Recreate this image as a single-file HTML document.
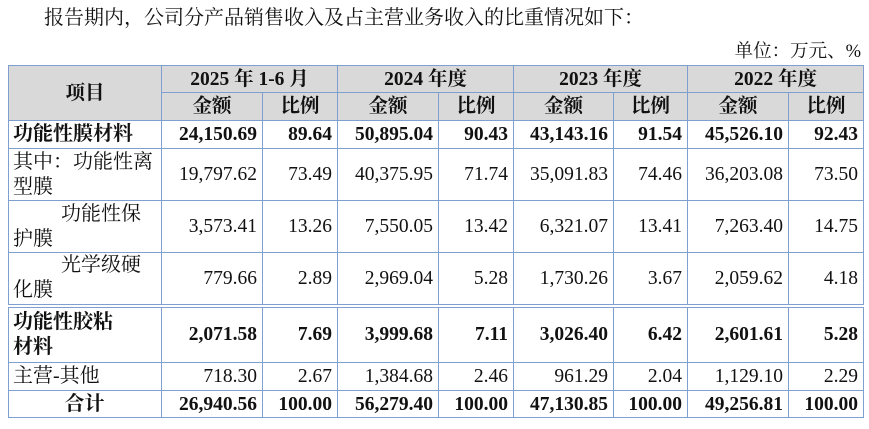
<!DOCTYPE html>
<html><head><meta charset="utf-8"><style>
body{margin:0;width:869px;height:429px;background:#fff;position:relative;overflow:hidden;font-family:"Liberation Serif","Noto Serif CJK SC",serif;color:#111}
.t{position:absolute;left:44px;top:1px;font-size:20px;white-space:nowrap}
.u{position:absolute;right:8px;top:37px;font-size:18.5px;white-space:nowrap}
table{position:absolute;left:8px;top:65px;border-collapse:collapse;table-layout:fixed;width:855px;font-size:19.5px}
td{border:1.5px solid #7f9fd0;padding:0 5px;text-align:right;white-space:nowrap;line-height:25px;overflow:hidden}
.h td{background:#d9d9d9;text-align:center;font-weight:bold;font-size:19.5px}
.b{font-weight:bold}
td.l{text-align:left;padding-left:4px;white-space:normal;font-size:20px}
tr.dbl td{border-top:4px double #7f9fd0}
</style></head><body>
<div class="t">报告期内，公司分产品销售收入及占主营业务收入的比重情况如下：</div>
<div class="u">单位：万元、%</div>
<table>
<colgroup><col style="width:153px"><col style="width:101px"><col style="width:75px"><col style="width:101px"><col style="width:75px"><col style="width:100px"><col style="width:74px"><col style="width:101px"><col style="width:75px"></colgroup>
<tr class="h" style="height:27px"><td rowspan="2">项目</td><td colspan="2">2025 年 1-6 月</td><td colspan="2">2024 年度</td><td colspan="2">2023 年度</td><td colspan="2">2022 年度</td></tr>
<tr class="h" style="height:28px"><td>金额</td><td>比例</td><td>金额</td><td>比例</td><td>金额</td><td>比例</td><td>金额</td><td>比例</td></tr>
<tr class="b" style="height:28px"><td class="l" style="font-weight:bold">功能性膜材料</td><td>24,150.69</td><td>89.64</td><td>50,895.04</td><td>90.43</td><td>43,143.16</td><td>91.54</td><td>45,526.10</td><td>92.43</td></tr>
<tr style="height:52px"><td class="l">其中：功能性离<br>型膜</td><td>19,797.62</td><td>73.49</td><td>40,375.95</td><td>71.74</td><td>35,091.83</td><td>74.46</td><td>36,203.08</td><td>73.50</td></tr>
<tr style="height:52px"><td class="l"><span style="padding-left:48px">功能性保</span><br>护膜</td><td>3,573.41</td><td>13.26</td><td>7,550.05</td><td>13.42</td><td>6,321.07</td><td>13.41</td><td>7,263.40</td><td>14.75</td></tr>
<tr style="height:53px"><td class="l"><span style="padding-left:48px">光学级硬</span><br>化膜</td><td>779.66</td><td>2.89</td><td>2,969.04</td><td>5.28</td><td>1,730.26</td><td>3.67</td><td>2,059.62</td><td>4.18</td></tr>
<tr class="b dbl" style="height:57px"><td class="l" style="font-weight:bold">功能性胶粘<br>材料</td><td>2,071.58</td><td>7.69</td><td>3,999.68</td><td>7.11</td><td>3,026.40</td><td>6.42</td><td>2,601.61</td><td>5.28</td></tr>
<tr style="height:28px"><td class="l">主营-其他</td><td>718.30</td><td>2.67</td><td>1,384.68</td><td>2.46</td><td>961.29</td><td>2.04</td><td>1,129.10</td><td>2.29</td></tr>
<tr class="b" style="height:27px"><td class="l" style="text-align:center;font-weight:bold">合计</td><td>26,940.56</td><td>100.00</td><td>56,279.40</td><td>100.00</td><td>47,130.85</td><td>100.00</td><td>49,256.81</td><td>100.00</td></tr>
</table>
</body></html>
